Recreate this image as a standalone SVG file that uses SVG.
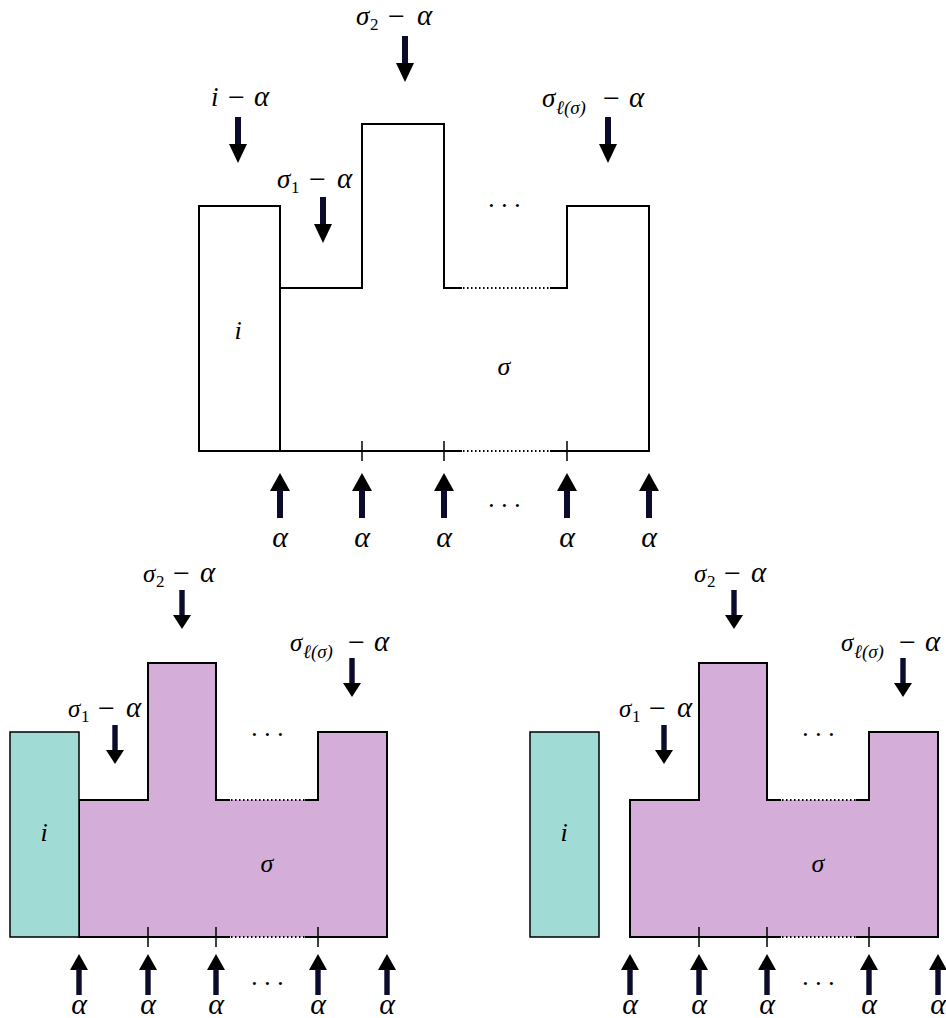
<svg xmlns="http://www.w3.org/2000/svg" xmlns:xlink="http://www.w3.org/1999/xlink" width="946" height="1018" viewBox="0 0 946 1018">
<style>
.ol{fill:none;stroke:#000;stroke-width:2;stroke-linejoin:miter}
.dt{fill:none;stroke:#000;stroke-width:2;stroke-dasharray:1.5 2.5}
.tk{stroke:#000;stroke-width:1.5}
.m{font-family:"Liberation Serif","DejaVu Serif",serif;font-style:italic;font-size:26px;fill:#000;text-anchor:middle}
.L{font-family:"Liberation Serif","DejaVu Serif",serif;font-style:italic;font-size:27px;fill:#000}
.Ls{font-family:"Liberation Serif","DejaVu Serif",serif;font-style:italic;font-size:25px;fill:#000}
.a{font-family:"Liberation Serif","DejaVu Serif",serif;font-style:italic;font-size:30px;fill:#000;text-anchor:middle}
.mi{font-style:normal;font-size:30px}
.al{font-size:29px}
.up{font-style:normal}
.sub{font-size:17px}
.subl{font-size:19px}
.teal{fill:#a0dcd5;stroke:#000;stroke-width:1.5}
.pur{fill:#d4aed8;stroke:none}
</style>
<defs>
<g id="dn"><rect x="-3" y="0" width="6" height="29" fill="#0b0b2b"/><polygon points="-9,27 9,27 0,46" fill="#000"/></g>
<g id="upA"><polygon points="-10,18 10,18 0,0" fill="#000"/><rect x="-3" y="17" width="6" height="28" fill="#0b0b2b"/></g>
<g id="dn2"><rect x="-2.7" y="0" width="5.4" height="26" fill="#0b0b2b"/><polygon points="-9,25 9,25 0,39" fill="#000"/></g>
<g id="up2"><polygon points="-9,16 9,16 0,0" fill="#000"/><rect x="-2.7" y="15" width="5.4" height="26" fill="#0b0b2b"/></g>
</defs>

<!-- TOP DIAGRAM -->
<g id="top-i">
<rect x="199" y="206" width="81" height="245" class="ol"/>
<text x="238" y="339" class="m">i</text>
</g>
<g id="top-sigma">
<path class="ol" d="M462,288 L444,288 L444,124 L362,124 L362,288 L280,288 L280,451 L462,451"/>
<path class="ol" d="M550,451 L649,451 L649,206 L567,206 L567,288 L550,288"/>
<path class="dt" d="M463,288 L550,288 M463,451 L550,451"/>
<path class="tk" d="M362,441 V461 M444,441 V461 M567,441 V461"/>
<text x="504" y="375" class="m">σ</text>
<text x="504" y="214" class="m">· · ·</text>
<text x="504" y="514" class="m">· · ·</text>
</g>
<g id="top-labels">
<text y="106" class="L"><tspan x="211">i</tspan><tspan x="228" class="mi" dy="1">−</tspan><tspan x="254" class="al" dy="-1">α</tspan></text>
<text y="25" class="L"><tspan x="356">σ</tspan><tspan x="370" class="sub up" dy="5">2</tspan><tspan x="388" class="mi" dy="-4">−</tspan><tspan x="417" class="al" dy="-1">α</tspan></text>
<text y="188" class="L"><tspan x="277">σ</tspan><tspan x="291" class="sub up" dy="5">1</tspan><tspan x="309" class="mi" dy="-4">−</tspan><tspan x="337" class="al" dy="-1">α</tspan></text>
<text y="107" class="L"><tspan x="542">σ</tspan><tspan x="556" class="subl" dy="7">ℓ(σ)</tspan><tspan x="603" class="mi" dy="-6">−</tspan><tspan x="629" class="al" dy="-1">α</tspan></text>
<text x="280" y="547" class="a">α</text>
<text x="362" y="547" class="a">α</text>
<text x="444" y="547" class="a">α</text>
<text x="567" y="547" class="a">α</text>
<text x="649" y="547" class="a">α</text>
</g>

<!-- BOTTOM LEFT -->
<g id="bl-sigma">
<path class="pur" d="M79,937 L79,800 L148,800 L148,663 L216,663 L216,800 L318,800 L318,732 L387,732 L387,937 Z"/>
<path class="ol" d="M230,800 L216,800 L216,663 L148,663 L148,800 L79,800 L79,937 L230,937"/>
<path class="ol" d="M305,937 L387,937 L387,732 L318,732 L318,800 L305,800"/>
<path class="dt" d="M231,800 L305,800 M231,937 L305,937"/>
<path class="tk" d="M148,927 V947 M216,927 V947 M318,927 V947"/>
<text x="267" y="872" class="m">σ</text>
<text x="267" y="743" class="m">· · ·</text>
<text x="267" y="992" class="m">· · ·</text>
</g>
<g id="bl-i">
<rect x="10" y="732" width="69" height="205" class="teal"/>
<text x="44" y="841" class="m">i</text>
</g>
<g id="bl-labels">
<text y="582" class="Ls"><tspan x="143">σ</tspan><tspan x="156" class="sub up" dy="5">2</tspan><tspan x="173" class="mi" dy="-4">−</tspan><tspan x="200" class="al" dy="-1">α</tspan></text>
<text y="717" class="Ls"><tspan x="68">σ</tspan><tspan x="81" class="sub up" dy="5">1</tspan><tspan x="98" class="mi" dy="-4">−</tspan><tspan x="126" class="al" dy="-1">α</tspan></text>
<text y="651" class="Ls"><tspan x="290">σ</tspan><tspan x="303" class="subl" dy="7">ℓ(σ)</tspan><tspan x="348" class="mi" dy="-6">−</tspan><tspan x="374" class="al" dy="-1">α</tspan></text>
<text x="79" y="1014" class="a">α</text>
<text x="148" y="1014" class="a">α</text>
<text x="216" y="1014" class="a">α</text>
<text x="318" y="1014" class="a">α</text>
<text x="387" y="1014" class="a">α</text>
</g>

<!-- BOTTOM RIGHT -->
<g id="br-sigma">
<path class="pur" d="M630,937 L630,800 L699,800 L699,663 L767,663 L767,800 L869,800 L869,732 L938,732 L938,937 Z"/>
<path class="ol" d="M781,800 L767,800 L767,663 L699,663 L699,800 L630,800 L630,937 L781,937"/>
<path class="ol" d="M856,937 L938,937 L938,732 L869,732 L869,800 L856,800"/>
<path class="dt" d="M782,800 L856,800 M782,937 L856,937"/>
<path class="tk" d="M699,927 V947 M767,927 V947 M869,927 V947"/>
<text x="818" y="872" class="m">σ</text>
<text x="818" y="743" class="m">· · ·</text>
<text x="818" y="992" class="m">· · ·</text>
</g>
<g id="br-i">
<rect x="530" y="732" width="69" height="205" class="teal"/>
<text x="564" y="841" class="m">i</text>
</g>
<g id="br-labels">
<text y="582" class="Ls"><tspan x="694">σ</tspan><tspan x="707" class="sub up" dy="5">2</tspan><tspan x="724" class="mi" dy="-4">−</tspan><tspan x="751" class="al" dy="-1">α</tspan></text>
<text y="717" class="Ls"><tspan x="619">σ</tspan><tspan x="632" class="sub up" dy="5">1</tspan><tspan x="649" class="mi" dy="-4">−</tspan><tspan x="677" class="al" dy="-1">α</tspan></text>
<text y="651" class="Ls"><tspan x="841">σ</tspan><tspan x="854" class="subl" dy="7">ℓ(σ)</tspan><tspan x="899" class="mi" dy="-6">−</tspan><tspan x="925" class="al" dy="-1">α</tspan></text>
<text x="630" y="1014" class="a">α</text>
<text x="699" y="1014" class="a">α</text>
<text x="767" y="1014" class="a">α</text>
<text x="869" y="1014" class="a">α</text>
<text x="938" y="1014" class="a">α</text>
</g>

<!-- CONNECTORS (arrows) -->
<g id="connectors">
<use xlink:href="#dn" x="238" y="117"/>
<use xlink:href="#dn" x="323" y="197"/>
<use xlink:href="#dn" x="405" y="36"/>
<use xlink:href="#dn" x="608" y="117"/>
<use xlink:href="#upA" x="280" y="473"/>
<use xlink:href="#upA" x="362" y="473"/>
<use xlink:href="#upA" x="444" y="473"/>
<use xlink:href="#upA" x="567" y="473"/>
<use xlink:href="#upA" x="649" y="473"/>

<use xlink:href="#dn2" x="115" y="725"/>
<use xlink:href="#dn2" x="182" y="590"/>
<use xlink:href="#dn2" x="352" y="658"/>
<use xlink:href="#up2" x="79" y="954"/>
<use xlink:href="#up2" x="148" y="954"/>
<use xlink:href="#up2" x="216" y="954"/>
<use xlink:href="#up2" x="318" y="954"/>
<use xlink:href="#up2" x="387" y="954"/>

<use xlink:href="#dn2" x="664" y="725"/>
<use xlink:href="#dn2" x="734" y="590"/>
<use xlink:href="#dn2" x="903" y="658"/>
<use xlink:href="#up2" x="630" y="954"/>
<use xlink:href="#up2" x="699" y="954"/>
<use xlink:href="#up2" x="767" y="954"/>
<use xlink:href="#up2" x="869" y="954"/>
<use xlink:href="#up2" x="938" y="954"/>
</g>
</svg>
